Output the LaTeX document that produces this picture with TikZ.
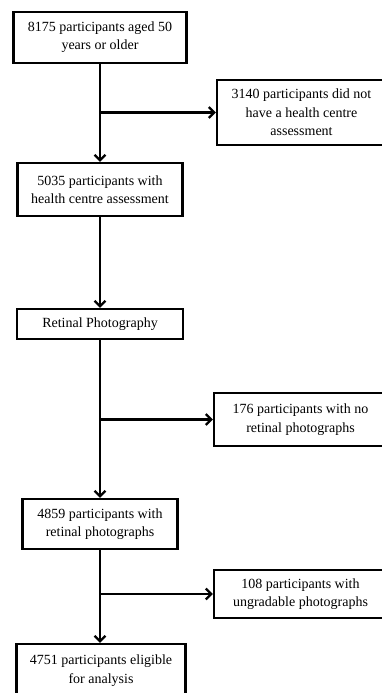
\documentclass[tikz,border=0pt]{standalone}
\usepackage{fontspec}
\setmainfont{Liberation Serif}
\usetikzlibrary{arrows.meta, positioning}

\begin{document}
\begin{tikzpicture}[x=1pt, y=-1pt, >={Straight Barb[length=5.5pt, width=11pt]}, Box/.style={draw, line width=2.2pt, rectangle, align=center, inner sep=2pt, font=\fontsize{14}{18.3}\selectfont}, Flow/.style={->, line width=2.3pt}]
\useasboundingbox (0,0) rectangle (382,693);
% main column
\node[Box, minimum width=173pt, minimum height=51pt] (aged) at (100,37.5) {8175 participants aged 50\\years or older};
\node[Box, minimum width=165pt, minimum height=53pt] (health) at (100,189.5) {5035 participants with\\health centre assessment};
\node[Box, minimum width=166pt, minimum height=30pt] (retinal) at (100,324) {Retinal Photography};
\node[Box, minimum width=155pt, minimum height=50pt] (photos) at (100,524) {4859 participants with\\retinal photographs};
\node[Box, minimum width=169pt, minimum height=53pt] (eligible) at (101,670.5) {4751 participants eligible\\for analysis};
% exclusions
\node[Box, minimum width=169pt, minimum height=65pt] (nohealth) at (301.5,112.5) {3140 participants did not\\have a health centre\\assessment};
\node[Box, minimum width=173pt, minimum height=53pt] (nophotos) at (300.5,419.5) {176 participants with no\\retinal photographs};
\node[Box, minimum width=173pt, minimum height=48pt] (ungrad) at (300.5,594) {108 participants with\\ungradable photographs};
% arrows
\draw[Flow] (aged) -- (health);
\draw[Flow] (aged.south |- nohealth.west) -- (nohealth.west);
\draw[Flow] (health) -- (retinal);
\draw[Flow] (retinal) -- (photos);
\draw[Flow] (retinal.south |- nophotos.west) -- (nophotos.west);
\draw[Flow] (photos) -- (eligible.north -| photos.south);
\draw[Flow] (photos.south |- ungrad.west) -- (ungrad.west);
\end{tikzpicture}
\end{document}
